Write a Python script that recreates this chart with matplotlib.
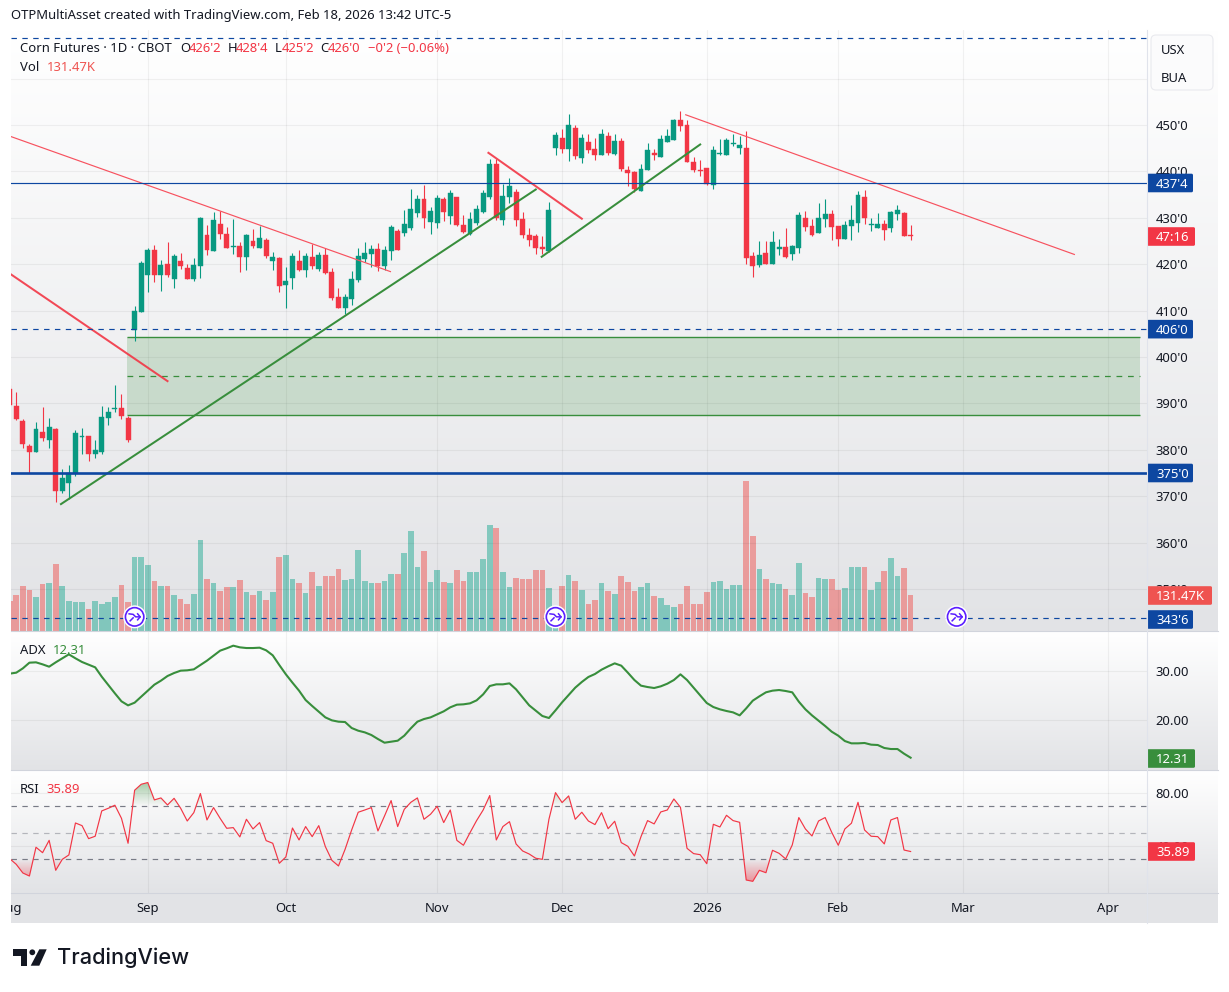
#!/usr/bin/env python3
"""
Corn futures daily chart with volume, ADX and RSI panes.
"""

import numpy as np
import matplotlib
matplotlib.use('Agg')
import matplotlib.pyplot as plt
from matplotlib.patches import Rectangle, FancyBboxPatch, Polygon, Circle
from matplotlib.path import Path
from matplotlib.ticker import FuncFormatter

plt.rcParams['font.family'] = ['Noto Sans', 'DejaVu Sans']

W, H = 1229, 992

opens = [393.0, 389.4, 386.2, 380.8, 379.5, 383.8, 382.1, 384.5, 371.1, 372.9,
         375.0, 382.8, 383.0, 379.1, 379.5, 386.9, 388.9, 389.0, 386.9, 405.8,
         409.7, 417.7, 423.1, 417.7, 420.0, 416.8, 420.7, 419.2, 416.8, 419.6,
         426.3, 422.8, 428.7, 426.5, 423.7, 423.9, 421.6, 425.0, 423.5, 425.2,
         420.7, 421.3, 415.5, 417.0, 420.7, 418.8, 421.6, 419.0, 422.0, 418.3,
         412.9, 410.6, 412.5, 416.6, 421.1, 422.2, 423.3, 419.6, 422.8, 427.2,
         426.7, 427.8, 431.0, 434.1, 429.1, 428.9, 434.1, 430.4, 434.5, 428.4,
         426.5, 428.9, 431.3, 434.5, 441.6, 429.5, 434.5, 435.6, 429.7, 426.3,
         426.1, 423.7, 422.8, 445.0, 447.2, 444.8, 449.4, 442.9, 446.3, 444.8,
         443.5, 447.6, 443.8, 446.6, 440.3, 439.9, 435.8, 440.3, 444.0, 443.1,
         446.3, 446.8, 451.1, 450.0, 442.0, 440.4, 440.7, 437.1, 443.7, 443.5,
         445.9, 445.0, 445.0, 421.8, 419.8, 422.4, 420.0, 423.3, 423.7, 422.2,
         423.5, 430.0, 428.2, 426.7, 429.7, 430.8, 428.2, 425.4, 428.2, 428.9,
         434.5, 428.5, 427.8, 428.7, 427.8, 430.8, 431.0, 426.25]
highs = [394.0, 392.5, 386.6, 381.3, 386.0, 389.2, 386.9, 384.7, 375.9, 376.7,
         384.3, 384.7, 383.0, 382.1, 389.4, 389.2, 394.0, 392.0, 387.3, 411.0,
         420.6, 423.5, 424.1, 420.9, 424.8, 422.2, 422.4, 420.0, 421.3, 430.2,
         428.4, 431.3, 431.5, 428.0, 429.7, 424.8, 426.5, 427.6, 428.2, 425.6,
         422.6, 421.6, 419.4, 422.4, 423.1, 422.4, 424.4, 422.6, 423.5, 419.2,
         414.9, 413.6, 418.5, 423.5, 424.8, 424.1, 424.6, 423.9, 428.4, 427.6,
         431.7, 436.2, 434.9, 437.1, 432.3, 434.9, 434.5, 436.0, 434.5, 430.6,
         431.3, 432.8, 436.0, 442.7, 442.7, 437.3, 438.6, 436.2, 431.3, 427.8,
         426.5, 426.1, 433.4, 448.5, 449.1, 452.4, 450.0, 448.1, 448.1, 447.2,
         449.1, 448.5, 448.1, 447.2, 441.2, 440.1, 441.6, 446.1, 444.8, 447.8,
         449.1, 451.3, 453.0, 451.1, 443.1, 442.5, 440.7, 445.5, 447.0, 447.2,
         448.1, 447.6, 448.7, 422.6, 425.0, 425.0, 427.2, 425.4, 427.8, 424.1,
         431.3, 431.5, 429.7, 433.2, 434.1, 431.7, 428.2, 429.3, 432.8, 435.8,
         436.0, 430.0, 431.0, 429.5, 431.5, 432.8, 431.3, 428.5]
lows = [389.4, 386.4, 380.4, 375.1, 379.5, 381.9, 380.4, 368.8, 370.7, 369.4,
        374.4, 379.1, 377.6, 378.2, 379.1, 385.3, 388.2, 386.6, 381.7, 403.5,
        409.7, 414.0, 416.2, 414.2, 417.2, 414.9, 419.0, 416.8, 416.4, 417.0,
        422.0, 422.8, 425.4, 423.5, 422.2, 418.3, 418.8, 423.5, 423.5, 421.3,
        418.8, 414.0, 410.6, 414.7, 418.5, 417.2, 419.0, 418.5, 417.9, 412.3,
        410.6, 409.3, 411.2, 416.2, 420.5, 419.4, 418.5, 418.8, 420.9, 423.1,
        426.1, 427.4, 430.2, 427.8, 426.5, 427.8, 429.3, 428.7, 428.2, 426.7,
        426.3, 428.4, 431.0, 434.1, 429.5, 428.4, 433.2, 428.2, 425.6, 423.9,
        422.2, 422.2, 422.6, 443.5, 444.0, 442.2, 442.7, 441.8, 444.0, 442.5,
        443.5, 443.5, 443.5, 440.1, 436.9, 435.6, 435.8, 440.3, 442.5, 443.1,
        446.3, 446.8, 448.7, 442.0, 439.9, 439.0, 437.1, 436.2, 443.5, 443.5,
        445.5, 443.8, 420.0, 417.2, 419.4, 420.0, 420.0, 422.0, 421.3, 420.9,
        422.4, 427.2, 426.1, 426.7, 428.0, 425.2, 423.9, 425.4, 425.2, 426.9,
        428.7, 427.2, 427.8, 425.2, 426.9, 429.5, 426.1, 425.25]
closes = [389.6, 386.6, 381.3, 379.5, 384.5, 382.5, 384.9, 371.1, 373.9, 375.0,
          383.6, 383.0, 379.1, 380.0, 387.1, 388.2, 389.1, 387.3, 382.1, 409.9,
          420.3, 423.1, 417.7, 419.8, 417.7, 421.8, 419.6, 416.8, 419.8, 430.0,
          423.1, 429.5, 426.5, 423.5, 423.9, 421.6, 426.3, 423.9, 425.6, 421.8,
          421.6, 415.3, 416.4, 421.8, 418.8, 421.8, 419.6, 422.0, 418.1, 412.7,
          410.6, 412.9, 416.8, 421.8, 422.4, 423.3, 419.6, 423.1, 428.0, 423.1,
          428.7, 431.9, 434.1, 430.0, 431.5, 434.3, 431.3, 435.3, 428.4, 426.9,
          429.7, 431.9, 435.3, 441.6, 430.0, 434.7, 436.9, 429.5, 426.3, 425.2,
          423.5, 423.3, 431.7, 447.8, 444.8, 450.0, 443.3, 447.2, 444.6, 443.5,
          448.1, 444.0, 446.6, 440.5, 439.7, 436.2, 440.5, 444.6, 443.5, 447.0,
          447.6, 451.1, 449.8, 442.0, 440.3, 440.0, 437.3, 444.6, 443.9, 446.8,
          446.1, 445.7, 421.3, 419.6, 422.0, 420.0, 424.8, 423.7, 421.6, 423.9,
          430.6, 428.0, 426.3, 430.0, 430.8, 428.0, 425.4, 428.4, 429.5, 434.9,
          430.0, 428.7, 428.7, 427.4, 431.3, 431.7, 426.1, 426.0]

# volume in thousands of contracts
volume = [111, 133, 166, 152, 126, 174, 178, 248, 166, 111, 107, 107, 81, 111, 100,
          107, 126, 170, 107, 274, 274, 244, 185, 166, 166, 133, 118, 100, 137, 337,
          192, 178, 148, 163, 163, 189, 144, 133, 148, 115, 144, 274, 281, 192, 178,
          141, 218, 166, 203, 203, 229, 189, 192, 300, 185, 178, 178, 185, 211, 211,
          289, 370, 237, 296, 181, 226, 181, 178, 226, 185, 218, 218, 266, 392, 381,
          218, 163, 196, 192, 192, 226, 226, 159, 74, 166, 207, 185, 152, 100, 115,
          178, 148, 137, 203, 181, 148, 163, 178, 130, 122, 96, 89, 100, 166, 100,
          100, 144, 181, 185, 155, 170, 170, 555, 351, 229, 192, 178, 174, 155, 133,
          252, 141, 126, 196, 192, 192, 152, 159, 237, 237, 237, 152, 181, 222, 270,
          203, 233, 131.47]

adx = [29.46, 29.66, 30.54, 31.70, 31.77, 31.36, 30.88, 31.77, 32.59, 33.40, 32.59,
       31.84, 31.29, 30.75, 28.84, 27.14, 25.44, 23.81, 22.99, 23.54, 24.76, 25.99,
       27.21, 28.03, 28.98, 29.59, 30.07, 30.14, 30.34, 31.22, 32.11, 33.13, 34.15,
       34.63, 35.17, 34.83, 34.69, 34.69, 34.76, 34.22, 33.20, 31.22, 29.32, 27.62,
       25.99, 24.08, 22.86, 21.70, 20.54, 19.93, 19.66, 19.59, 18.37, 17.82, 17.48,
       16.94, 16.12, 15.37, 15.58, 15.78, 16.80, 18.30, 19.66, 20.20, 20.54, 21.16,
       21.77, 22.59, 23.13, 23.20, 23.40, 24.01, 25.24, 26.94, 27.28, 27.28, 27.48,
       26.26, 24.63, 22.99, 21.90, 20.82, 20.41, 21.97, 23.61, 25.10, 26.60, 27.76,
       28.78, 29.39, 30.27, 30.95, 31.56, 31.09, 29.66, 28.16, 27.01, 26.73, 26.53,
       26.87, 27.41, 28.16, 29.32, 28.16, 26.60, 25.03, 23.47, 22.65, 22.18, 21.84,
       21.56, 20.95, 22.38, 23.95, 24.83, 25.65, 25.99, 26.12, 25.92, 25.65, 23.74,
       22.18, 20.95, 19.86, 18.78, 17.62, 16.80, 15.71, 15.24, 15.24, 15.31, 14.97,
       14.90, 14.29, 14.08, 14.08, 13.13, 12.31]

rsi = [30.5, 26.2, 19.7, 17.4, 39.1, 35.0, 44.3, 21.7, 30.0, 33.3, 57.4, 55.4, 45.6,
       47.4, 66.5, 68.5, 70.8, 60.9, 42.1, 82.1, 86.6, 87.9, 74.8, 76.3, 71.0, 76.0,
       68.5, 58.9, 65.2, 79.6, 59.7, 69.0, 60.9, 53.4, 53.9, 46.9, 60.2, 52.9, 57.7,
       44.1, 42.1, 27.0, 31.8, 53.6, 44.6, 54.7, 47.1, 55.4, 39.6, 29.2, 25.0, 37.5,
       52.1, 65.5, 67.2, 69.0, 51.4, 62.7, 74.3, 54.7, 67.7, 73.0, 76.3, 60.2, 64.0,
       70.0, 57.7, 67.2, 44.3, 40.6, 50.1, 59.2, 67.2, 78.1, 44.6, 54.7, 58.4, 41.6,
       36.3, 34.0, 30.8, 30.0, 60.2, 80.3, 72.8, 77.8, 60.2, 65.5, 58.9, 56.2, 65.2,
       53.1, 58.7, 42.6, 39.8, 32.5, 47.1, 59.2, 56.7, 65.7, 67.2, 75.5, 69.2, 38.3,
       34.3, 33.5, 26.7, 56.4, 54.4, 63.2, 59.2, 57.9, 14.4, 13.4, 21.7, 19.9, 36.8,
       34.5, 30.3, 40.8, 61.5, 52.9, 47.6, 58.9, 61.5, 50.4, 40.6, 52.9, 57.2, 73.0,
       52.1, 47.4, 47.1, 41.6, 59.7, 61.5, 37.0, 35.89]

month_pos = [-0.1, 21, 42, 65, 84, 106, 126, 145, 167]
month_labels = ['Aug', 'Sep', 'Oct', 'Nov', 'Dec', '2026', 'Feb', 'Mar', 'Apr']
price_ticks = [350, 360, 370, 380, 390, 400, 410, 420, 430, 440, 450, 460]
earnings_pos = [19, 83, 144]

# drawn lines as (start index, start price, end index, end price)
thin_red = [(0.2, 447.5, 57.9, 418.4), (102.8, 452.2, 161.9, 422.1)]
thick_red = [(0.2, 417.8, 24.0, 394.8), (72.8, 444.0, 87.0, 429.8)]
thick_green = [(7.8, 368.3, 80.0, 436.1), (80.9, 421.6, 105.0, 445.8)]

UP = '#089981'
DOWN = '#F23645'
BLUE = '#0D47A1'
GREEN = '#388E3C'
TEXT = '#131722'
VOL_UP = '#22AB94'
VOL_RED = '#EF5350'
THIN_RED = '#F7525F'
FS = 9.4
DASH = (0, (4.6, 4.6))


def pane_axes(fig, x0, y0, x1, y1, **kw):
    """Axes placed by pixel box, y measured from the top of the figure."""
    return fig.add_axes([x0 / W, 1 - y1 / H, (x1 - x0) / W, (y1 - y0) / H], **kw)


def add_gradient(fig, y0, y1):
    """White to grey backdrop spanning a pane and its scale."""
    bg = pane_axes(fig, 11, y0, 1218, y1, zorder=0)
    bg.axis('off')
    g = np.linspace(0, 1, 256).reshape(-1, 1, 1)
    top = np.array([1.0, 1.0, 1.0]).reshape(1, 1, 3)
    bot = np.array([0xE2, 0xE3, 0xE6]).reshape(1, 1, 3) / 255
    bg.imshow(top * (1 - g) + bot * g, aspect='auto', extent=[0, 1, 0, 1])


def style_pane(ax, ticks, fmt):
    ax.patch.set_visible(False)
    for s in ax.spines.values():
        s.set_visible(False)
    ax.set_xlim(0.2, 172.9)
    ax.set_xticks(month_pos[1:])
    ax.set_yticks(ticks)
    ax.yaxis.tick_right()
    ax.yaxis.set_major_formatter(FuncFormatter(fmt))
    ax.tick_params(length=0, labelbottom=False, labelright=True, pad=6.5,
                   labelsize=FS, labelcolor=TEXT)
    ax.grid(True, color='black', alpha=0.05, lw=0.8)
    ax.set_axisbelow(True)


def gradient_fill(ax, x, y, level, above, rgb, extreme):
    """Fill between the line and a level, fading out towards the level."""
    y = np.asarray(y)
    where = y > level if above else y < level
    coll = ax.fill_between(x, y, level, where=where, interpolate=True, color='none')
    clip = Path.make_compound_path(*coll.get_paths())
    g = np.zeros((128, 1, 4))
    g[..., :3] = rgb
    g[:, 0, 3] = np.linspace(0.5, 0, 128) if above else np.linspace(0, 0.5, 128)
    lo, hi = (level, extreme) if above else (extreme, level)
    im = ax.imshow(g, aspect='auto', extent=[x[0], x[-1], lo, hi], origin='upper',
                   zorder=2)
    im.set_clip_path(clip, transform=ax.transData)


def price_label(v, _):
    # the 460 line sits behind the unit selector, so it has no label
    return '' if v >= 460 else f"{int(v)}'0"


def main():
    fig = plt.figure(figsize=(W / 100, H / 100), dpi=100, facecolor='white')
    x = np.arange(len(closes))
    o, h, l, c = map(np.array, (opens, highs, lows, closes))
    colors = [UP if b >= a else DOWN for a, b in zip(o, c)]
    vol_colors = [VOL_UP if b >= a else VOL_RED for a, b in zip(o, c)]

    add_gradient(fig, 30, 631)
    add_gradient(fig, 632, 770)
    add_gradient(fig, 771, 893)
    strip = pane_axes(fig, 11, 893, 1218, 923, zorder=0)
    strip.axis('off')
    strip.add_patch(Rectangle((0, 0), 1, 1, transform=strip.transAxes,
                              facecolor='#E2E3E6', edgecolor='none'))

    # volume sits under the candles on its own scale
    ax_vol = pane_axes(fig, 11, 30, 1146.7, 631, zorder=1)
    ax_vol.patch.set_visible(False)
    ax_vol.axis('off')
    ax_vol.bar(x, volume, width=0.86, color=vol_colors, alpha=0.5, linewidth=0)
    ax_vol.set_ylim(0, 2224)
    ax_vol.set_xlim(0.2, 172.9)

    ax = pane_axes(fig, 11, 30, 1146.7, 631, zorder=2)
    style_pane(ax, price_ticks, price_label)
    ax.set_ylim(340.95, 470.47)
    ax.vlines(x, l, h, color=colors, lw=0.8, zorder=3)
    ax.bar(x, np.abs(c - o), bottom=np.minimum(o, c), width=0.75, color=colors,
           edgecolor=colors, linewidth=0.3, zorder=3)

    # demand zone with its midline
    ax.add_patch(Rectangle((17.9, 387.4), 154.0, 16.9, facecolor=GREEN, alpha=0.2,
                           edgecolor='none', zorder=2))
    ax.hlines([387.4, 404.3], 17.9, 171.9, color=GREEN, lw=1.0, zorder=2.5)
    ax.hlines(395.8, 17.9, 171.9, color=GREEN, lw=0.9, linestyles=DASH, zorder=2.5)

    for x0, p0, x1, p1 in thin_red:
        ax.plot([x0, x1], [p0, p1], color=THIN_RED, lw=0.85, zorder=4)
    for x0, p0, x1, p1 in thick_red:
        ax.plot([x0, x1], [p0, p1], color=DOWN, lw=1.45, alpha=0.9, zorder=4)
    for x0, p0, x1, p1 in thick_green:
        ax.plot([x0, x1], [p0, p1], color=GREEN, lw=1.45, zorder=4)

    ax.axhline(437.5, color=BLUE, lw=0.85, zorder=4)
    ax.axhline(375, color=BLUE, lw=1.9, zorder=4)
    for level in (468.7, 406, 343.75):
        ax.axhline(level, color=BLUE, lw=0.85, linestyle=DASH, zorder=4)

    ax_adx = pane_axes(fig, 11, 632, 1146.7, 770, zorder=2)
    style_pane(ax_adx, [20, 30], lambda v, _: f'{v:.2f}')
    ax_adx.plot(x, adx, color=GREEN, lw=1.5, zorder=3)
    ax_adx.set_ylim(9.8, 37.96)

    ax_rsi = pane_axes(fig, 11, 771, 1146.7, 893, zorder=2)
    style_pane(ax_rsi, [40, 80], lambda v, _: f'{v:.2f}')
    gradient_fill(ax_rsi, x, rsi, 70, True, (0.22, 0.56, 0.24), 90)
    gradient_fill(ax_rsi, x, rsi, 30, False, (0.95, 0.21, 0.27), 12)
    ax_rsi.plot(x, rsi, color=DOWN, lw=0.85, zorder=3)
    ax_rsi.axhline(70, color='#787B86', lw=0.85, linestyle=DASH, zorder=2)
    ax_rsi.axhline(30, color='#787B86', lw=0.85, linestyle=DASH, zorder=2)
    ax_rsi.axhline(50, color='#787B86', lw=0.85, alpha=0.5, linestyle=DASH, zorder=2)
    ax_rsi.set_xlim(0.2, 172.9)
    ax_rsi.set_ylim(4.6, 96.6)

    ax_time = pane_axes(fig, 11, 893, 1146.7, 923, zorder=2)
    ax_time.patch.set_visible(False)
    ax_time.axis('off')
    ax_time.set_xlim(0.2, 172.9)
    ax_time.set_ylim(0, 1)
    for pos, lab in zip(month_pos, month_labels):
        ax_time.text(pos, 0.47, lab, ha='center', va='center', fontsize=FS, color=TEXT,
                     fontweight='bold' if lab == '2026' else 'normal', clip_on=True)

    # overlay in pixel units for tags, legends and the logo
    ov = fig.add_axes([0, 0, 1, 1], zorder=10)
    ov.patch.set_visible(False)
    ov.axis('off')
    ov.set_xlim(0, W)
    ov.set_ylim(H, 0)

    def to_px(axis, value):
        return H - axis.transData.transform((0, value))[1]

    def label(px, py, s, color=TEXT, **kw):
        kw.setdefault('fontsize', FS)
        ov.text(px, py + 1.3, s, color=color, va='center', ha=kw.pop('ha', 'left'), **kw)

    def tag(axis, value, s, color, width=46, label_at=None):
        py = to_px(axis, value) if label_at is None else label_at
        ov.add_patch(FancyBboxPatch((1147, py - 9.3), width, 18.6, facecolor=color,
                                    edgecolor='none',
                                    boxstyle='round,pad=0,rounding_size=1.5',
                                    mutation_aspect=1))
        label(1147 + 9, py, s, 'white', fontweight='medium')

    for y0 in (631, 770, 893):
        ov.plot([11, 1218], [y0, y0], color='#D1D4DC', lw=0.8)
    ov.plot([1146.7, 1146.7], [30, 923], color='#E0E3EB', lw=0.8)

    label(11, 14, 'OTPMultiAsset created with TradingView.com, Feb 18, 2026 13:42 UTC-5')
    label(20, 47, 'Corn Futures · 1D · CBOT')
    for px, s in ((180, 'O'), (228, 'H'), (275, 'L'), (320, 'C')):
        label(px, 47, s)
    for px, s in ((189, "426'2"), (236, "428'4"), (282, "425'2"), (328, "426'0"),
                  (367.7, "−0'2 (−0.06%)")):
        label(px, 47, s, DOWN)
    label(20, 66, 'Vol')
    label(46.7, 66, '131.47K', VOL_RED)
    label(20, 649, 'ADX')
    label(53, 649, '12.31', GREEN)
    label(20, 788, 'RSI')
    label(46.5, 788, '35.89', DOWN)

    ov.add_patch(FancyBboxPatch((1151, 35), 62, 55, facecolor='#FBFBFC',
                                edgecolor='#E9EAEE', lw=0.8,
                                boxstyle='round,pad=0,rounding_size=5'))
    label(1161, 49, 'USX')
    label(1161, 77, 'BUA')

    tag(ax, 437.5, "437'4", BLUE)
    tag(ax, 426.0, '47:16', DOWN, width=48, label_at=236.5)
    tag(ax, 406, "406'0", BLUE)
    tag(ax, 375, "375'0", BLUE)
    tag(ax, 343.75, "343'6", BLUE, label_at=619.5)
    tag(ax, 350, '131.47K', VOL_RED, width=65, label_at=595.5)
    tag(ax_adx, 12.31, '12.31', GREEN, width=48, label_at=758.5)
    tag(ax_rsi, 35.89, '35.89', DOWN, width=48, label_at=851.5)

    # earnings markers along the bottom of the price pane
    for pos in earnings_pos:
        cx = ax.transData.transform((pos, 0))[0]
        cy = to_px(ax, 344.0)
        ov.add_patch(Circle((cx, cy), 11.5, facecolor='white', edgecolor='none'))
        ov.add_patch(Circle((cx, cy), 9.2, facecolor='white', edgecolor='#5B1FFF', lw=1.2))
        ov.plot([cx - 5.5, cx - 1.5, cx + 1, cx + 5.5], [cy - 3, cy - 2.5, cy, cy],
                color='#5B1FFF', lw=1.1)
        ov.plot([cx - 4.5, cx - 1.5], [cy + 4, cy + 1], color='#5B1FFF', lw=1.1)
        ov.plot([cx + 3, cx + 5.5, cx + 3], [cy - 3, cy, cy + 3], color='#5B1FFF', lw=1.1)

    # wordmark in the footer
    ov.add_patch(Polygon([(13.3, 949.3), (26.7, 949.3), (26.7, 965.7), (20.5, 965.7),
                          (20.5, 955.8), (13.3, 955.8)], facecolor='#131722', edgecolor='none'))
    ov.add_patch(Circle((32.3, 952.3), 2.9, facecolor='#131722', edgecolor='none'))
    ov.add_patch(Polygon([(39.3, 949.3), (46.7, 949.3), (39.3, 965.7), (30.7, 965.7)],
                         facecolor='#131722', edgecolor='none'))
    ov.text(57, 958, 'TradingView', color='#131722', fontsize=15.6, va='center',
            fontfamily='Inter', fontweight='medium')

    fig.savefig('out.png', dpi=100)


if __name__ == '__main__':
    main()
